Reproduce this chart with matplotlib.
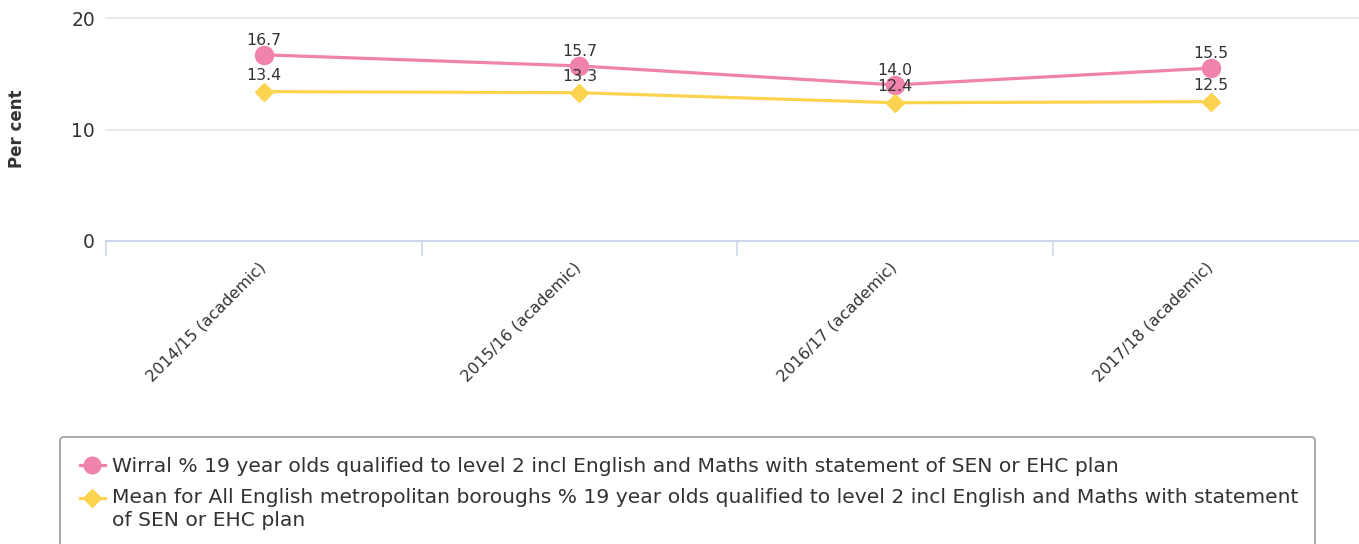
import numpy as np
import matplotlib
matplotlib.use('Agg')
import matplotlib.pyplot as plt
from matplotlib.lines import Line2D
from matplotlib.legend_handler import HandlerLine2D
from matplotlib.transforms import ScaledTranslation

# Chart data
years = ['2014/15 (academic)', '2015/16 (academic)', '2016/17 (academic)', '2017/18 (academic)']
wirral = [16.7, 15.7, 14.0, 15.5]
mean_boroughs = [13.4, 13.3, 12.4, 12.5]
wirral_label = 'Wirral % 19 year olds qualified to level 2 incl English and Maths with statement of SEN or EHC plan'
mean_label = ('Mean for All English metropolitan boroughs % 19 year olds qualified to level 2 incl English and Maths with statement\n'
              'of SEN or EHC plan')
yticks = [0, 10, 20]

PINK = '#F083AB'
YELLOW = '#FCD34F'
TEXT = '#333333'


class TopLineHandler(HandlerLine2D):
    # keep the legend symbol level with the first line of a wrapped label
    def __init__(self, dy=0, **kw):
        super().__init__(**kw)
        self.dy = dy

    def create_artists(self, legend, orig_handle, xdescent, ydescent, width, height, fontsize, trans):
        arts = super().create_artists(legend, orig_handle, xdescent, ydescent, width, height, fontsize, trans)
        for a in arts:
            a.set_ydata(np.asarray(a.get_ydata()) + self.dy)
        return arts


plt.rcParams['font.family'] = 'DejaVu Sans'

fig = plt.figure(figsize=(13.59, 5.44), dpi=100)
ax = fig.add_axes([106 / 1359, 1 - 241 / 544, 1 - 106 / 1359, (241 - 18) / 544])

x = np.arange(len(years))
ax.plot(x, wirral, color=PINK, lw=2.3, marker='o', markersize=13, zorder=3, clip_on=False)
ax.plot(x, mean_boroughs, color=YELLOW, lw=2.3, marker='D', markersize=9.5, zorder=3, clip_on=False)

# value labels above the points
for xi, v in zip(x, wirral):
    ax.annotate(f'{v:.1f}', (xi, v), xytext=(0, 5), textcoords='offset points',
                ha='center', va='bottom', fontsize=11.3, color=TEXT, zorder=5)
for xi, v in zip(x, mean_boroughs):
    ax.annotate(f'{v:.1f}', (xi, v), xytext=(0, 6.3), textcoords='offset points',
                ha='center', va='bottom', fontsize=11.3, color=TEXT, zorder=5)

ax.set_xlim(-0.5, 3.47)
ax.set_ylim(0, 20)
ax.set_yticks(yticks)
ax.set_yticklabels([str(t) for t in yticks], fontsize=13.5, color=TEXT)
ax.tick_params(axis='y', length=0, pad=8)
ax.grid(axis='y', color='#e6e6e6', lw=1.2)
for gl in ax.get_ygridlines():
    gl.set_clip_on(False)
ax.set_axisbelow(True)

# category boundary ticks + centred labels
ax.set_xticks(np.arange(len(years)) - 0.5)
ax.set_xticklabels([])
ax.set_xticks(x, minor=True)
ax.set_xticklabels(years, minor=True, rotation=45, ha='right', va='top',
                   rotation_mode='anchor', fontsize=11.5, color=TEXT)
ax.tick_params(axis='x', which='major', length=11, color='#ccd6eb', width=1.2)
ax.tick_params(axis='x', which='minor', length=0, pad=13.5)
shift = ScaledTranslation(-6 / 100, 0, fig.dpi_scale_trans)
for lab in ax.get_xticklabels(minor=True):
    lab.set_transform(lab.get_transform() + shift)

for s in ['top', 'right', 'left']:
    ax.spines[s].set_visible(False)
ax.spines['bottom'].set_color('#ccd6eb')
ax.spines['bottom'].set_linewidth(1.5)

fig.text(17 / 1359, 1 - 129 / 544, 'Per cent', rotation=90, ha='center', va='center',
         fontsize=12, fontweight='bold', color=TEXT)

h_wirral = Line2D([], [], color=PINK, lw=2.3, marker='o', markersize=12)
h_mean = Line2D([], [], color=YELLOW, lw=2.3, marker='D', markersize=9)
leg = fig.legend([h_wirral, h_mean], [wirral_label, mean_label], loc='upper left',
                 bbox_to_anchor=(60 / 1359, 1 - 580 / 544, (1315 - 60) / 1359, (580 - 437) / 544),
                 mode='expand', borderaxespad=0, fontsize=14.6, frameon=True, fancybox=True,
                 handlelength=1.2, handletextpad=0.35, labelspacing=0.6,
                 borderpad=1.0, edgecolor='#999999', framealpha=1,
                 handler_map={h_mean: TopLineHandler(dy=8.4)})
for t in leg.get_texts():
    t.set_color(TEXT)
    t.set_linespacing(1.25)
leg.get_frame().set_linewidth(1.2)

fig.savefig('out.png', dpi=100)
